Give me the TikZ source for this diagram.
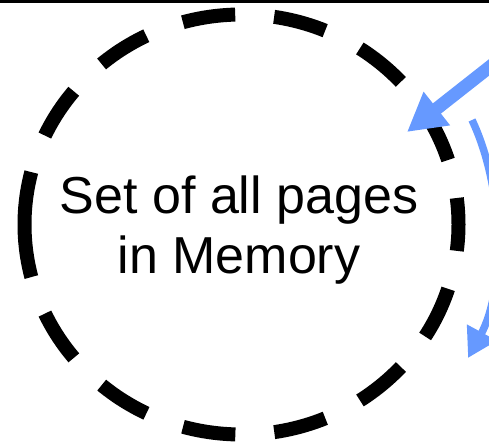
\documentclass[tikz,border=0pt]{standalone}
\usepackage{fontspec}
\setmainfont{Liberation Sans}
\usetikzlibrary{arrows.meta}
\definecolor{arrowblue}{RGB}{102,153,255}
\tikzset{
  setring/.style={line width=14pt, dash pattern=on 53pt off 39.04pt},
  bluearrow/.style={draw=arrowblue, line width=#1},
  labeltext/.style={font=\fontsize{52}{60}\selectfont, align=center, inner sep=0pt}
}
\begin{document}
\begin{tikzpicture}[x=1pt,y=1pt]
\useasboundingbox (0,0) rectangle (489,-443);
\clip (0,0) rectangle (489,-443);
% top rule
\draw[line width=3pt] (0,-1.5) -- (489,-1.5);
% dashed set boundary
\coordinate (ringstart) at (24.5,-224.5);
\draw[setring] (ringstart) arc[start angle=180, end angle=-180, x radius=217, y radius=210];
% label
\node[labeltext, anchor=base] (label) at (239,-273) {Set of all pages\\in Memory};
% incoming arrow
\coordinate (inA) at (498.5,-60);
\coordinate (inB) at (407,-132);
\draw[bluearrow=13pt, -{Triangle[length=38pt,width=40pt]}] (inA) -- (inB);
% outgoing curved arrow
\coordinate (outA) at (472,-120);
\coordinate (outB) at (468,-358);
\draw[bluearrow=7.5pt, -{Triangle[length=29pt,width=32pt]}] (outA) .. controls (505,-190) and (505,-290) .. (outB);
\end{tikzpicture}
\end{document}
